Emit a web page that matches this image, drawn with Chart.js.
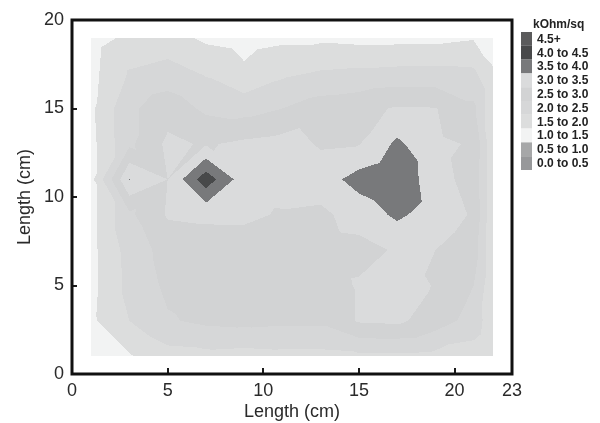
<!DOCTYPE html>
<html>
<head>
<meta charset="utf-8">
<title>Sheet resistance map</title>
<script src="https://cdn.jsdelivr.net/npm/chart.js@4.4.1/dist/chart.umd.min.js"></script>
<style>
  html, body { margin: 0; padding: 0; background: #ffffff; }
  #chart-wrap { width: 600px; height: 423px; }
</style>
</head>
<body>
<div id="chart-wrap"><canvas id="sheet-chart" width="600" height="423"></canvas></div>
<script>
// Measurement grid (cm)
const xNodes = [1, 3, 5, 7, 9, 11, 13, 15, 17, 19, 21, 22];
const yNodes = [1, 3, 5, 7, 9, 11, 13, 15, 17, 19];

// Sheet resistance (kOhm/sq), one row per y node, left to right
const rowY1  = [1.30, 1.45, 1.80, 1.85, 1.80, 1.85, 1.85, 1.90, 1.90, 1.85, 1.75, 1.50];
const rowY3  = [1.40, 2.00, 2.45, 2.60, 2.65, 2.60, 2.60, 3.05, 3.10, 2.75, 2.30, 1.65];
const rowY5  = [1.35, 2.15, 2.60, 2.70, 2.70, 2.75, 2.75, 3.05, 3.15, 2.98, 2.50, 1.60];
const rowY7  = [1.35, 2.20, 2.70, 2.70, 2.75, 2.80, 2.80, 2.85, 3.05, 3.00, 2.75, 1.60];
const rowY9  = [1.35, 2.40, 3.05, 3.10, 3.10, 2.95, 2.90, 3.20, 3.60, 3.25, 2.95, 1.60];
const rowY11 = [1.35, 3.52, 3.00, 4.30, 3.20, 3.25, 3.25, 3.70, 3.95, 3.15, 2.85, 1.60];
const rowY13 = [1.35, 2.40, 3.10, 2.95, 3.10, 3.20, 2.95, 2.98, 3.60, 3.10, 2.95, 1.60];
const rowY15 = [1.40, 2.40, 2.80, 2.40, 2.30, 2.50, 2.75, 2.85, 3.05, 3.02, 2.60, 1.60];
const rowY17 = [1.35, 2.05, 2.20, 1.95, 1.60, 1.90, 2.05, 2.10, 2.15, 2.15, 2.10, 1.55];
const rowY19 = [1.30, 1.60, 1.70, 1.40, 1.30, 1.40, 1.40, 1.35, 1.35, 1.35, 1.45, 1.30];
const sheetRows = [rowY1, rowY3, rowY5, rowY7, rowY9, rowY11, rowY13, rowY15, rowY17, rowY19];

// Contour bands, top of legend first
const bandLabels = ['4.5+', '4.0 to 4.5', '3.5 to 4.0', '3.0 to 3.5', '2.5 to 3.0',
                    '2.0 to 2.5', '1.5 to 2.0', '1.0 to 1.5', '0.5 to 1.0', '0.0 to 0.5'];
const bandLows = [4.5, 4.0, 3.5, 3.0, 2.5, 2.0, 1.5, 1.0, 0.5, 0.0];
const bandColors = ['#5b5b5c', '#48494a', '#78797b', '#dadbdc', '#d2d3d4',
                    '#d6d7d8', '#dcdddd', '#f2f3f3', '#a6a7a8', '#97989a'];

const xTicks = [0, 5, 10, 15, 20, 23];
const yTicks = [0, 5, 10, 15, 20];

const FONT = '"Liberation Sans", Arial, Helvetica, sans-serif';

// find cell index for a value in a node list
function cellIndex(nodes, v) {
    for (let i = 0; i < nodes.length - 2; i++) {
        if (v < nodes[i + 1]) return i;
    }
    return nodes.length - 2;
}

// linear interpolation on a triangulated grid (alternating diagonals)
function valueAt(vx, vy) {
    const i = cellIndex(xNodes, vx);
    const j = cellIndex(yNodes, vy);
    const u = (vx - xNodes[i]) / (xNodes[i + 1] - xNodes[i]);
    const t = (vy - yNodes[j]) / (yNodes[j + 1] - yNodes[j]);
    const a = sheetRows[j][i], b = sheetRows[j][i + 1];
    const c = sheetRows[j + 1][i], d = sheetRows[j + 1][i + 1];
    if ((i + j) % 2 === 0) {
        // diagonal from (1,0) to (0,1)
        if (u + t <= 1) return a + (b - a) * u + (c - a) * t;
        return d + (c - d) * (1 - u) + (b - d) * (1 - t);
    }
    // diagonal from (0,0) to (1,1)
    if (u >= t) return a + (b - a) * u + (d - b) * t;
    return a + (c - a) * t + (d - c) * u;
}

function colorFor(v) {
    for (let k = 0; k < bandLows.length; k++) {
        if (v >= bandLows[k]) return bandColors[k];
    }
    return bandColors[bandColors.length - 1];
}

// Filled contour map, drawn through the chart scales
const contourPlugin = {
    id: 'contourFill',
    beforeDatasetsDraw(chart) {
        const { ctx, scales: { x, y } } = chart;
        const px0 = Math.round(x.getPixelForValue(xNodes[0]));
        const px1 = Math.round(x.getPixelForValue(xNodes[xNodes.length - 1]));
        const pyTop = Math.round(y.getPixelForValue(yNodes[yNodes.length - 1]));
        const pyBot = Math.round(y.getPixelForValue(yNodes[0]));
        ctx.save();
        for (let py = pyTop; py < pyBot; py++) {
            const vy = y.getValueForPixel(py + 0.5);
            let runStart = px0;
            let runColor = null;
            for (let px = px0; px < px1; px++) {
                const vx = x.getValueForPixel(px + 0.5);
                const col = colorFor(valueAt(vx, vy));
                if (col !== runColor) {
                    if (runColor) {
                        ctx.fillStyle = runColor;
                        ctx.fillRect(runStart, py, px - runStart, 1);
                    }
                    runStart = px;
                    runColor = col;
                }
            }
            ctx.fillStyle = runColor;
            ctx.fillRect(runStart, py, px1 - runStart, 1);
        }
        ctx.restore();
    },
    afterDraw(chart) {
        const { ctx, chartArea: area, scales: { x, y } } = chart;
        ctx.save();
        // inward tick marks
        ctx.strokeStyle = '#1a1a1a';
        ctx.lineWidth = 2;
        xTicks.forEach(v => {
            if (v === x.min || v === x.max) return;
            const px = Math.round(x.getPixelForValue(v));
            ctx.beginPath();
            ctx.moveTo(px, area.bottom);
            ctx.lineTo(px, area.bottom - 6);
            ctx.stroke();
        });
        yTicks.forEach(v => {
            if (v === y.min || v === y.max) return;
            const py = Math.round(y.getPixelForValue(v));
            ctx.beginPath();
            ctx.moveTo(area.left, py);
            ctx.lineTo(area.left + 5, py);
            ctx.stroke();
        });
        // thick frame
        ctx.lineWidth = 3;
        ctx.strokeStyle = '#111111';
        ctx.strokeRect(area.left, area.top, area.right - area.left, area.bottom - area.top);

        // legend
        const lx = area.right + 9;
        const ly = area.top + 12;
        const sh = 13.8;
        ctx.font = 'bold 12px ' + FONT;
        ctx.fillStyle = '#222222';
        ctx.textBaseline = 'middle';
        ctx.textAlign = 'left';
        ctx.fillText('kOhm/sq', lx + 12, area.top + 5);
        bandLabels.forEach((label, k) => {
            ctx.fillStyle = bandColors[k];
            ctx.fillRect(lx, ly + k * sh, 11, sh);
            ctx.fillStyle = '#222222';
            ctx.fillText(label, lx + 16, ly + k * sh + sh / 2 + 0.5);
        });
        ctx.restore();
    }
};

// grid nodes as the dataset (invisible points)
const nodePoints = [];
yNodes.forEach((yv, j) => {
    xNodes.forEach((xv, i) => {
        nodePoints.push({ x: xv, y: yv, r: sheetRows[j][i] });
    });
});

new Chart(document.getElementById('sheet-chart'), {
    type: 'scatter',
    data: {
        datasets: [{
            label: 'kOhm/sq',
            data: nodePoints,
            pointRadius: 0,
            pointHoverRadius: 0
        }]
    },
    options: {
        responsive: false,
        animation: false,
        events: [],
        layout: { padding: { left: 0, right: 88, top: 20, bottom: 0 } },
        plugins: {
            legend: { display: false },
            tooltip: { enabled: false }
        },
        scales: {
            x: {
                type: 'linear',
                min: 0,
                max: 23,
                border: { display: false },
                grid: { display: false, drawTicks: false },
                afterBuildTicks: scale => {
                    scale.ticks = xTicks.map(v => ({ value: v }));
                },
                afterFit: scale => { scale.height = 49; },
                ticks: {
                    autoSkip: false,
                    maxRotation: 0,
                    padding: 6,
                    color: '#2a2a2a',
                    font: { family: FONT, size: 18 }
                },
                title: {
                    display: true,
                    text: 'Length (cm)',
                    color: '#2a2a2a',
                    padding: { top: 0, bottom: 0 },
                    font: { family: FONT, size: 18 }
                }
            },
            y: {
                type: 'linear',
                min: 0,
                max: 20,
                border: { display: false },
                grid: { display: false, drawTicks: false },
                afterBuildTicks: scale => {
                    scale.ticks = yTicks.map(v => ({ value: v }));
                },
                afterFit: scale => { scale.width = 72; },
                ticks: {
                    autoSkip: false,
                    padding: 8,
                    color: '#2a2a2a',
                    font: { family: FONT, size: 18 }
                },
                title: {
                    display: true,
                    text: 'Length (cm)',
                    color: '#2a2a2a',
                    padding: { top: 14, bottom: 0 },
                    font: { family: FONT, size: 18 }
                }
            }
        }
    },
    plugins: [contourPlugin]
});
</script>
</body>
</html>
